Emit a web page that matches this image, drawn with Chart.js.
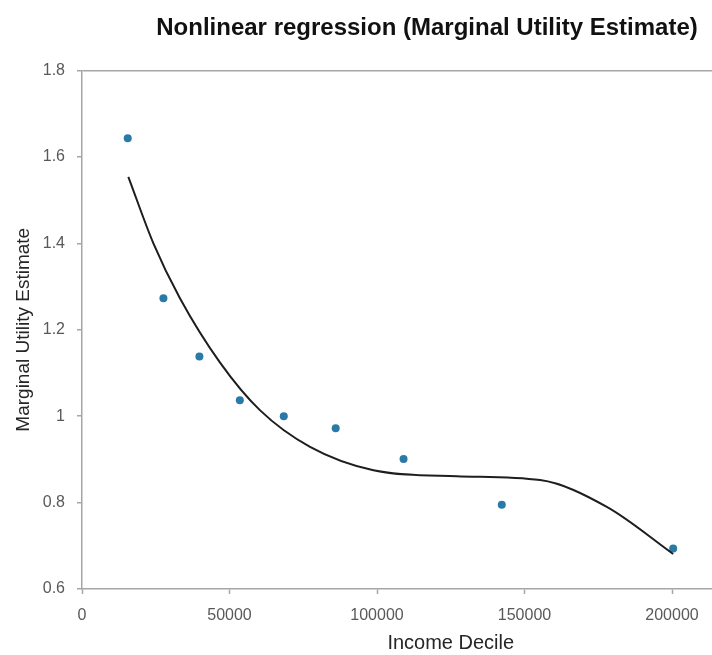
<!DOCTYPE html>
<html>
<head>
<meta charset="utf-8">
<script src="https://cdn.jsdelivr.net/npm/chart.js@4.4.1/dist/chart.umd.min.js"></script>
<style>
  html, body { margin: 0; padding: 0; background: #fff; overflow: hidden; }
  /* the original picture is cropped on the right, so the canvas runs past the window */
  #wrap { width: 854px; height: 655px; }
</style>
</head>
<body>
<div id="wrap"><canvas id="chart" width="854" height="655"></canvas></div>
<script>
// observed points
const incomeDecile = [15500, 27600, 39800, 53500, 68400, 86000, 109000, 142300, 200400];
const marginalUtility = [1.643, 1.273, 1.138, 1.037, 1.0, 0.972, 0.901, 0.795, 0.694];

// fitted curve
const trendX = [15700, 24200, 33200, 46800, 60300, 77300, 98800, 127000, 155300, 177900, 200400];
const trendY = [1.554, 1.400, 1.273, 1.124, 1.014, 0.929, 0.875, 0.861, 0.852, 0.790, 0.681];

const xTicks = [0, 50000, 100000, 150000, 200000];
const yTicks = [0.6, 0.8, 1, 1.2, 1.4, 1.6, 1.8];

const chartTitle = "Nonlinear regression (Marginal Utility Estimate)";

const axisGrey = "#a6a6a6";
const font = "'Liberation Sans', Arial, sans-serif";

// title is centred on the whole canvas, not on the plot area
const titlePlugin = {
  id: "canvasTitle",
  afterDraw(chart) {
    const ctx = chart.ctx;
    ctx.save();
    ctx.font = `bold 24px ${font}`;
    ctx.fillStyle = "#111";
    ctx.textAlign = "center";
    ctx.textBaseline = "alphabetic";
    ctx.fillText(chartTitle, chart.width / 2, 35);
    ctx.restore();
  },
};

new Chart(document.getElementById("chart"), {
  type: "scatter",
  data: {
    datasets: [
      {
        data: trendX.map((x, i) => ({ x, y: trendY[i] })),
        showLine: true,
        borderColor: "#1e1e1e",
        borderWidth: 2,
        pointRadius: 0,
        cubicInterpolationMode: "monotone",
      },
      {
        data: incomeDecile.map((x, i) => ({ x, y: marginalUtility[i] })),
        backgroundColor: "#2a7aa8",
        borderWidth: 0,
        pointRadius: 4,
      },
    ],
  },
  plugins: [titlePlugin],
  options: {
    responsive: false,
    animation: false,
    layout: { padding: { left: 0, right: 34.5, top: 70.5, bottom: 0 } },
    scales: {
      x: {
        type: "linear",
        min: 0,
        max: 250000,
        afterFit: s => { s.height = 66; },
        afterBuildTicks: s => { s.ticks = xTicks.map(v => ({ value: v })); },
        border: { color: axisGrey, width: 1.5 },
        grid: { drawOnChartArea: false, tickColor: axisGrey, tickLength: 5, tickWidth: 1.5 },
        ticks: {
          padding: 12,
          color: "#595959",
          font: { family: font, size: 16 },
          callback: v => String(v),
          maxRotation: 0,
        },
        title: {
          display: true,
          text: "Income Decile",
          color: "#262626",
          font: { family: font, size: 20 },
          padding: { top: 0, bottom: 0 },
        },
      },
      y: {
        min: 0.6,
        max: 1.8,
        afterFit: s => { s.width = 82; },
        afterBuildTicks: s => { s.ticks = yTicks.map(v => ({ value: v })); },
        border: { color: axisGrey, width: 1.5 },
        grid: {
          color: c => (c.tick && Math.abs(c.tick.value - 1.8) < 1e-9 ? axisGrey : "transparent"),
          lineWidth: 1.5,
          tickColor: axisGrey,
          tickLength: 5,
          tickWidth: 1.5,
        },
        ticks: {
          padding: 12,
          color: "#595959",
          font: { family: font, size: 16 },
          callback: v => String(+v.toFixed(1)),
        },
        title: {
          display: true,
          text: "Marginal Utility Estimate",
          color: "#262626",
          font: { family: font, size: 19 },
          padding: { top: 12, bottom: 0 },
        },
      },
    },
    plugins: {
      legend: { display: false },
      tooltip: { enabled: false },
      title: { display: false },
    },
  },
});
</script>
</body>
</html>
